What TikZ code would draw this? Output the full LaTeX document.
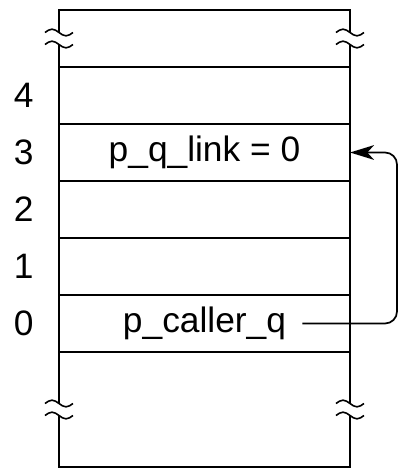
\documentclass[tikz,border=0pt]{standalone}
\usepackage{fontspec}
\setmainfont{Liberation Sans}
\usetikzlibrary{arrows.meta,positioning}
\def\figlinewidth{1.7pt}
\def\figcellwidth{218.25pt}
\def\figcellheight{42.75pt}
\def\figendheight{86.25pt}
\def\figlabelsep{18.75pt}
\def\figtextsize{26.5pt}

\begin{document}
\begin{tikzpicture}[
  x=0.75pt,y=-0.75pt,
  font=\fontsize{\figtextsize}{30pt}\selectfont,
  cell/.style={draw,line width=\figlinewidth,minimum width=\figcellwidth,minimum height=\figcellheight,inner sep=0pt,outer sep=0pt},
  celltext/.style={inner sep=0pt},
  rowlabel/.style={minimum width=15pt,inner sep=0pt},
  link/.style={line width=1.3pt,-{Stealth[length=18pt,width=11pt,inset=5pt]},rounded corners=9pt},
  brk/.style={line width=1.2pt},
]

\useasboundingbox (0,0) rectangle (401,472);

%%%%%%%%%%%%%%%
% Stack cells
%%%%%%%%%%%%%%%
\node (top) [cell,anchor=north west] at (59,10) {};
\node (c4) [cell,below=0pt of top] {};
\node (c3) [cell,below=0pt of c4] {};
\node (c2) [cell,below=0pt of c3] {};
\node (c1) [cell,below=0pt of c2] {};
\node (c0) [cell,below=0pt of c1] {};
\node (bot) [cell,minimum height=\figendheight,below=0pt of c0] {};

\node (pql) [celltext] at (c3) {p\_q\_link = 0};
\node (pcq) [celltext] at (c0) {p\_caller\_q};

% row numbers
\foreach \i in {0,...,4}
  \node (l\i) [rowlabel,left=\figlabelsep of c\i] {\i};

%%%%%%%%%%%%%%%
% Link back to frame 3
\coordinate (rail) at ([xshift=35.25pt]c3.east);
\draw[link] ([xshift=12pt]pcq.east) -| (rail) -- (c3.east);

%%%%%%%%%%%%%%%
% Break marks on the side walls
\foreach \b in {top.west,top.east,bot.west,bot.east} {
  \fill[white] ([xshift=-2pt,yshift=-4.5pt]\b) rectangle ([xshift=2pt,yshift=4.5pt]\b);
  \draw[brk] ([shift={(-10.5pt,4.5pt)}]\b) sin ++(5.25pt,2.5pt) cos ++(5.25pt,-2.5pt) sin ++(5.25pt,-2.5pt) cos ++(5.25pt,2.5pt);
  \draw[brk] ([shift={(-10.5pt,-4.5pt)}]\b) sin ++(5.25pt,2.5pt) cos ++(5.25pt,-2.5pt) sin ++(5.25pt,-2.5pt) cos ++(5.25pt,2.5pt);
}

\end{tikzpicture}
\end{document}
